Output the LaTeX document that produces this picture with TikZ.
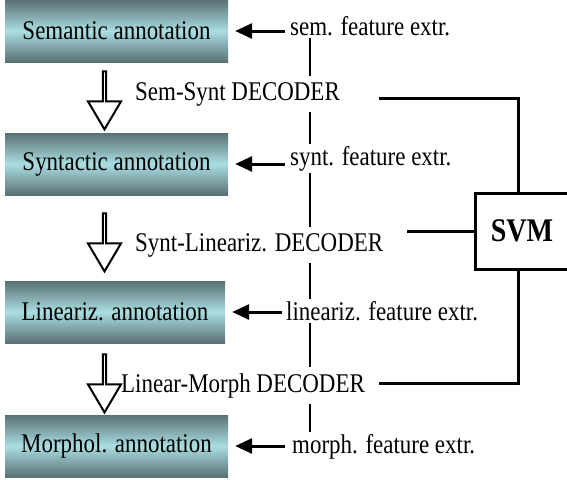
\documentclass[tikz,border=0pt]{standalone}
\usepackage{fontspec}
\setmainfont{Liberation Serif}[FakeStretch=0.85]
\usetikzlibrary{arrows.meta,shapes.arrows}
\definecolor{boxdark}{RGB}{90,112,116}
\definecolor{boxlight}{RGB}{170,222,226}
\begin{document}
\begin{tikzpicture}[x=1pt,y=-1pt]
\useasboundingbox (0,0) rectangle (567,479);

\begin{scope}[every node/.style={minimum width=223pt, minimum height=62pt, inner sep=0pt, top color=boxdark, bottom color=boxdark, middle color=boxlight, font=\fontsize{27}{30}\selectfont}]
    \node (sem) at (116.5,31) {Semantic annotation};
    \node (syn) at (116.5,164) {Syntactic annotation};
    \node[minimum width=220pt] (lin) at (115,312) {Lineariz. annotation};
    \node (mor) at (116.5,446) {Morphol. annotation};
\end{scope}

\begin{scope}[every node/.style={single arrow, draw, line width=2pt, fill=white, shape border rotate=270, minimum height=58pt, minimum width=33pt, single arrow head extend=9pt, single arrow tip angle=61, inner sep=0pt}]
    \node (a1) at (104.5,99) {};
    \node (a2) at (104.5,241) {};
    \node (a3) at (104.5,382) {};
\end{scope}

\begin{scope}[every node/.style={font=\fontsize{27}{30}\selectfont, inner xsep=0pt, inner ysep=2pt, anchor=base west}]
    \node (semx) at (290,35) {sem. feature extr.};
    \node (syntx) at (290,165) {synt. feature extr.};
    \node (linx) at (286,320) {lineariz. feature extr.};
    \node (morx) at (292,453) {morph. feature extr.};
\end{scope}

\begin{scope}[every node/.style={font=\fontsize{27}{30}\selectfont, inner xsep=0pt, inner ysep=6pt, anchor=base west}]
    \node (dec1) at (135,100) {Sem-Synt DECODER};
    \node (dec2) at (135,251) {Synt-Lineariz. DECODER};
    \node (dec3) at (121,392) {Linear-Morph DECODER};
\end{scope}

\node[draw, line width=3pt, minimum width=94pt, minimum height=76pt, font=\bfseries\fontsize{33}{36}\selectfont] (svm) at (522,231) {SVM};

\coordinate (spine) at (310,0);
\coordinate (drop) at (518,0);
\coordinate (c1) at (379,98);
\coordinate (c2) at (407,231);
\coordinate (c3) at (379,383);

\begin{scope}[line width=2.6pt]
    \draw (semx.south -| spine) -- (dec1.north -| spine);
    \draw (dec1.south -| spine) -- (syntx.north -| spine);
    \draw (syntx.south -| spine) -- (dec2.north -| spine);
    \draw (dec2.south -| spine) -- (linx.north -| spine);
    \draw (linx.south -| spine) -- (dec3.north -| spine);
    \draw (dec3.south -| spine) -- (morx.north -| spine);
\end{scope}

\begin{scope}[line width=3pt]
    \draw (c1) -- (c1 -| drop) -- (svm.north -| drop);
    \draw (c2) -- (svm.west);
    \draw (c3) -- (c3 -| drop) -- (svm.south -| drop);
\end{scope}

\begin{scope}[-{Triangle[length=17pt,width=15pt]}, line width=3pt, shorten >=7pt]
    \draw[shorten <=5pt] (semx.west |- sem.east) -- (sem.east);
    \draw[shorten <=5pt] (syntx.west |- syn.east) -- (syn.east);
    \draw[shorten <=4pt] (linx.west |- lin.east) -- (lin.east);
    \draw[shorten <=7pt] (morx.west |- mor.east) -- (mor.east);
\end{scope}

\end{tikzpicture}
\end{document}
